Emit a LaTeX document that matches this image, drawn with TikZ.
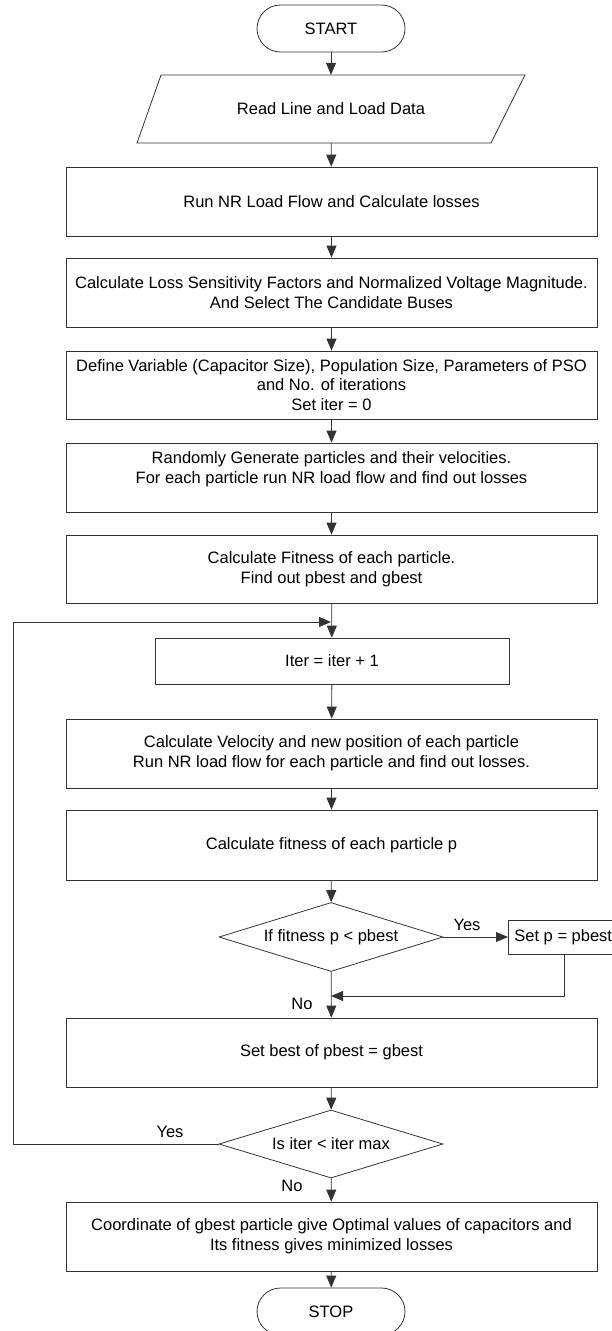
\documentclass[tikz,border=0pt]{standalone}
\usepackage{fontspec}
\setmainfont{Liberation Sans}
\usetikzlibrary{arrows.meta,shapes.geometric}
\begin{document}
\begin{tikzpicture}[x=1pt,y=-1pt,
  every node/.style={font=\fontsize{16.5}{19.8}\selectfont, text=black},
  box/.style={draw=black!80, line width=0.8pt, minimum width=531pt, minimum height=69pt, inner sep=0pt, align=center},
  term/.style={draw=black!80, line width=0.8pt, rounded corners=23.5pt, minimum width=148pt, minimum height=47pt, inner sep=0pt},
  dec/.style={draw=black!80, line width=0.8pt, diamond, aspect=3.25, minimum width=224pt, minimum height=69pt, inner sep=0pt},
  flow/.style={draw=black!80, line width=0.8pt, -{Triangle[length=12pt,width=10pt]}},
  lbl/.style={inner sep=0pt}
]
\useasboundingbox (0,0) rectangle (612,1331);
\clip (0,0) rectangle (612,1331);

\node[term] (start) at (331,28.5) {START};
\draw[draw=black!80, line width=0.8pt] (161,75) -- (525,75) -- (491,143) -- (137,143) -- cycle;
\node[minimum width=300pt, minimum height=68pt, inner sep=0pt] (read) at (331,109) {Read Line and Load Data};
\node[box] (run) at (331.5,201.5) {Run NR Load Flow and Calculate losses};
\node[box] (loss) at (331.5,292.5) {Calculate Loss Sensitivity Factors and Normalized Voltage Magnitude.\\And Select The Candidate Buses};
\node[box, minimum height=68pt] (def) at (331.5,385) {Define Variable (Capacitor Size), Population Size, Parameters of PSO\\and No. of iterations\\Set iter = 0};
\node[box] (rand) at (331.5,477.5) {Randomly Generate particles and their velocities.\\For each particle run NR load flow and find out losses\\\mbox{}};
\node[box, minimum height=68pt] (fit) at (331.5,569) {Calculate Fitness of each particle.\\Find out pbest and gbest};
\node[box, minimum width=354pt, minimum height=46pt] (iter) at (332,661) {Iter = iter + 1};
\node[box] (vel) at (331.5,753.5) {Calculate Velocity and new position of each particle\\Run NR load flow for each particle and find out losses.};
\node[box, minimum height=70pt] (fitp) at (331.5,845) {Calculate fitness of each particle p};
\node[dec] (dia1) at (331,937) {If fitness p {\textless} pbest};
\node[draw=black!80, line width=0.8pt, anchor=west, minimum height=34pt, inner xsep=6pt, inner ysep=0pt] (setp) at (508,937) {Set p = pbest};
\node[box] (best) at (331.5,1052.5) {Set best of pbest = gbest};
\node[dec, minimum height=68pt] (dia2) at (331,1144) {Is iter {\textless} iter max};
\node[box] (coord) at (331.5,1236.5) {Coordinate of gbest particle give Optimal values of capacitors and\\Its fitness gives minimized losses};
\node[term] (stop) at (331,1311.5) {STOP};

\coordinate (lp) at (331,622);
\coordinate (c2) at (13,622);
\coordinate (mg) at (331,996);

\draw[flow] (start) -- (read);
\draw[flow] (read) -- (run);
\draw[flow] (run) -- (loss);
\draw[flow] (loss) -- (def);
\draw[flow] (def) -- (rand);
\draw[flow] (rand) -- (fit);
\draw[flow] (fit) -- (iter);
\draw[flow] (iter) -- (vel);
\draw[flow] (vel) -- (fitp);
\draw[flow] (fitp) -- (dia1);
\draw[flow] (dia1.east) -- (setp.west);
\draw[flow] ([xshift=56pt]setp.south west) |- (mg);
\draw[flow] (dia1) -- (best);
\draw[flow] (best) -- (dia2);
\draw[flow] (dia2.west) -| (c2) -- (lp);
\draw[flow] (dia2) -- (coord);
\draw[flow] (coord) -- (stop);

\node[lbl] (y1) at (467,925) {Yes};
\node[lbl] (n1) at (302,1004) {No};
\node[lbl] (y2) at (170,1132) {Yes};
\node[lbl] (n2) at (292,1186) {No};
\end{tikzpicture}
\end{document}
